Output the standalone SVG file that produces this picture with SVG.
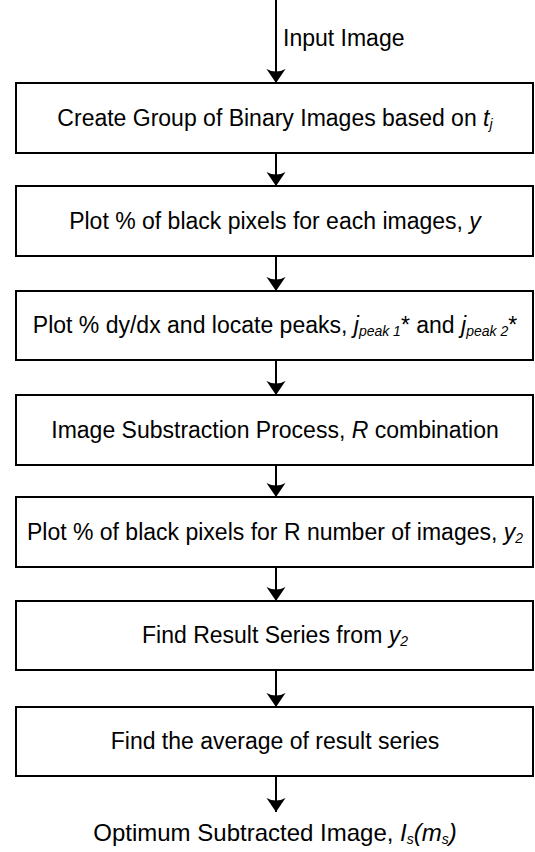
<svg xmlns="http://www.w3.org/2000/svg" width="535" height="852" viewBox="0 0 535 852">
<style>
.box{fill:#fff;stroke:#000;stroke-width:2}
.t{font-family:"Liberation Sans",Arial,sans-serif;font-size:23px;fill:#000;text-anchor:middle}
.i{font-style:italic}
.sub{font-style:italic;font-size:14px}
.c{stroke:#000;stroke-width:2;fill:none}
</style>
<defs>
<marker id="ah" markerUnits="userSpaceOnUse" markerWidth="16" markerHeight="22" refX="15" refY="11" orient="auto" viewBox="0 0 16 22">
<path d="M15,11 L1,1.5 Q6,11 1,20.5 Z" fill="#000"/>
</marker>
</defs>
<g id="connectors">
<line class="c" x1="276" y1="0" x2="276" y2="83" marker-end="url(#ah)"/>
<line class="c" x1="276" y1="153" x2="276" y2="186" marker-end="url(#ah)"/>
<line class="c" x1="276" y1="256" x2="276" y2="291" marker-end="url(#ah)"/>
<line class="c" x1="276" y1="360" x2="276" y2="395" marker-end="url(#ah)"/>
<line class="c" x1="276" y1="465" x2="276" y2="497" marker-end="url(#ah)"/>
<line class="c" x1="276" y1="567" x2="276" y2="601" marker-end="url(#ah)"/>
<line class="c" x1="276" y1="670" x2="276" y2="707" marker-end="url(#ah)"/>
<line class="c" x1="276" y1="776" x2="276" y2="812" marker-end="url(#ah)"/>
<text class="t" x="283" y="46" style="text-anchor:start">Input Image</text>
</g>
<g id="n1">
<rect class="box" x="16" y="83" width="517" height="70"/>
<text class="t" x="275" y="126">Create Group of Binary Images based on <tspan class="i">t</tspan><tspan class="sub" dy="3">j</tspan></text>
</g>
<g id="n2">
<rect class="box" x="16" y="186" width="517" height="70"/>
<text class="t" x="275" y="229">Plot % of black pixels for each images, <tspan class="i">y</tspan></text>
</g>
<g id="n3">
<rect class="box" x="16" y="291" width="517" height="69"/>
<text class="t" x="275" y="333">Plot % dy/dx and locate peaks, <tspan class="i">j</tspan><tspan class="sub" dy="3">peak 1</tspan><tspan dy="-3">*</tspan> and <tspan class="i">j</tspan><tspan class="sub" dy="3">peak 2</tspan><tspan dy="-3">*</tspan></text>
</g>
<g id="n4">
<rect class="box" x="16" y="395" width="517" height="70"/>
<text class="t" x="275" y="438">Image Substraction Process, <tspan class="i">R</tspan> combination</text>
</g>
<g id="n5">
<rect class="box" x="16" y="497" width="517" height="70"/>
<text class="t" x="275" y="540">Plot % of black pixels for R number of images, <tspan class="i">y</tspan><tspan class="sub" dy="3">2</tspan></text>
</g>
<g id="n6">
<rect class="box" x="16" y="601" width="517" height="69"/>
<text class="t" x="275" y="643">Find Result Series from <tspan class="i">y</tspan><tspan class="sub" dy="3">2</tspan></text>
</g>
<g id="n7">
<rect class="box" x="16" y="707" width="517" height="69"/>
<text class="t" x="275" y="749">Find the average of result series</text>
</g>
<g id="out">
<text class="t" x="275" y="841" style="font-size:24px">Optimum Subtracted Image, <tspan class="i">I</tspan><tspan class="sub" dy="3">s</tspan><tspan class="i" dy="-3">(m</tspan><tspan class="sub" dy="3">s</tspan><tspan class="i" dy="-3">)</tspan></text>
</g>
</svg>
